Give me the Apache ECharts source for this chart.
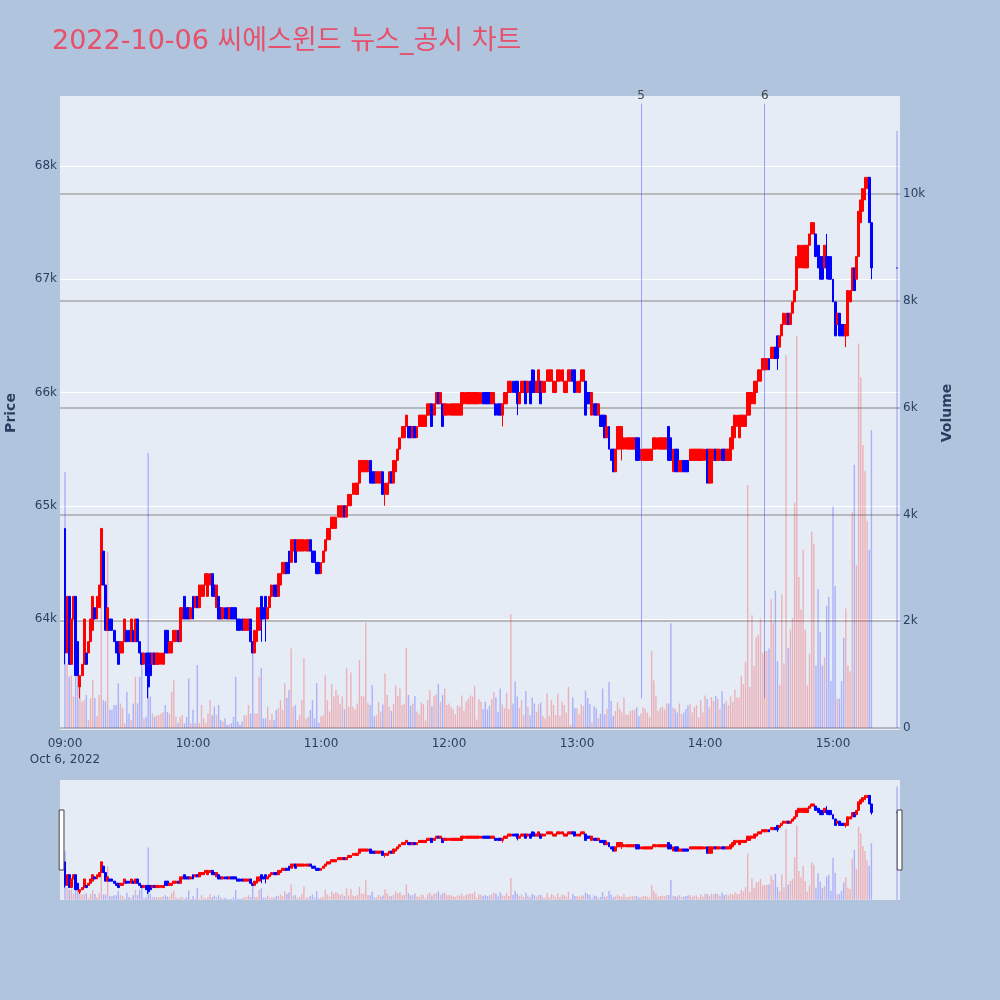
<!DOCTYPE html>
<html>
<head>
<meta charset="utf-8">
<title>씨에스윈드 뉴스_공시 차트</title>
<script src="https://cdn.jsdelivr.net/npm/echarts@6/dist/echarts.min.js"></script>
<style>
html, body { margin: 0; padding: 0; background: #b0c4de; }
#chart { width: 1000px; height: 1000px; }
</style>
</head>
<body>
<div id="chart"></div>
<script>
// one candle per minute starting at 09:00
var startTime = '09:00';
var opens = [
  64800,63700,64200,63600,64000,64200,63800,63400,63500,63600,
  63700,63700,63800,63900,64100,64000,64100,64300,64600,64300,
  63900,64000,64000,63900,63800,63800,63700,63700,63800,63900,
  63900,63800,63900,63800,64000,63800,63700,63600,63700,63700,
  63700,63600,63700,63600,63600,63600,63600,63900,63900,63700,
  63700,63800,63800,63900,63800,64000,64200,64100,64100,64000,
  64200,64100,64200,64100,64200,64200,64300,64200,64300,64400,
  64300,64100,64200,64100,64000,64100,64100,64000,64100,64100,
  64100,64000,64000,64000,63900,63900,63900,64000,63800,63700,
  63800,63900,64200,64100,64200,64000,64100,64200,64300,64300,
  64200,64300,64400,64400,64500,64600,64500,64600,64700,64600,
  64600,64600,64600,64600,64600,64700,64600,64600,64500,64500,
  64400,64500,64600,64700,64700,64800,64800,64800,64900,64900,
  64900,65000,64900,65000,65000,65100,65100,65100,65200,65300,
  65300,65300,65300,65400,65300,65300,65200,65200,65200,65300,
  65100,65100,65200,65300,65200,65300,65400,65500,65600,65600,
  65700,65700,65700,65600,65700,65600,65700,65700,65700,65700,
  65800,65800,65900,65800,65900,66000,65900,65900,65800,65800,
  65800,65800,65800,65800,65800,65800,65800,65900,65900,65900,
  65900,65900,65900,65900,65900,65900,66000,66000,66000,66000,
  65900,65900,65900,65900,65900,65800,65900,65900,66000,66000,
  66100,66100,66100,65900,66000,66000,66100,66000,66100,66200,
  66100,66000,66000,66100,66000,66000,66100,66100,66100,66000,
  66000,66100,66100,66100,66000,66000,66100,66100,66200,66200,
  66000,66000,66100,66100,66100,66000,66000,65800,65900,65900,
  65800,65800,65800,65800,65600,65700,65500,65500,65300,65500,
  65500,65600,65500,65500,65500,65500,65500,65500,65600,65600,
  65400,65400,65400,65400,65400,65400,65500,65500,65500,65500,
  65500,65500,65500,65700,65600,65300,65500,65500,65300,65300,
  65400,65400,65400,65400,65400,65400,65400,65400,65400,65400,
  65400,65500,65200,65200,65400,65500,65400,65400,65500,65500,
  65400,65400,65400,65500,65600,65700,65600,65700,65700,65700,
  65800,65800,65900,65900,66000,66100,66100,66200,66200,66200,
  66300,66300,66300,66400,66500,66400,66500,66600,66600,66700,
  66600,66700,66800,66900,67100,67100,67100,67100,67100,67300,
  67400,67400,67400,67300,67200,67200,67100,67200,67200,67200,
  67000,66800,66600,66700,66600,66600,66500,66500,66800,66900,
  67100,67000,67200,67500,67600,67700,67800,67900,67500
];
var closes = [
  63700,64200,63600,64000,64200,63500,63500,63500,63600,64000,
  63600,63800,64000,64200,64000,64200,64300,64800,64300,63900,
  64100,63900,63900,63800,63700,63600,63800,63800,64000,63800,
  63800,64000,63800,64000,63800,63700,63600,63700,63500,63400,
  63500,63700,63600,63700,63700,63700,63700,63700,63700,63800,
  63800,63900,63900,63800,64100,64100,64000,64000,64000,64100,
  64000,64200,64100,64300,64300,64300,64400,64400,64400,64200,
  64200,64300,64000,64000,64100,64000,64000,64100,64000,64000,
  64000,63900,63900,63900,64000,64000,64000,63800,63700,63900,
  64100,64100,64000,64000,64100,64100,64200,64300,64200,64200,
  64400,64400,64500,64500,64400,64400,64700,64700,64500,64700,
  64700,64700,64700,64700,64700,64600,64500,64500,64400,64400,
  64500,64600,64700,64800,64800,64900,64900,64900,65000,65000,
  65000,64900,65000,65100,65100,65200,65200,65200,65400,65400,
  65400,65400,65400,65200,65200,65200,65300,65300,65300,65100,
  65200,65200,65300,65200,65400,65400,65500,65600,65700,65700,
  65800,65600,65600,65700,65600,65700,65800,65800,65800,65800,
  65900,65900,65700,65900,66000,65900,66000,65700,65900,65900,
  65900,65900,65900,65900,65900,65900,66000,66000,66000,66000,
  66000,66000,66000,66000,66000,66000,65900,65900,65900,65900,
  66000,66000,65800,65800,65800,65900,66000,66000,66100,66100,
  66000,66000,65900,66000,66100,66100,65900,66100,65900,66000,
  66000,66100,66200,65900,66100,66100,66200,66200,66200,66100,
  66100,66200,66200,66200,66100,66100,66200,66200,66100,66000,
  66100,66100,66200,66200,65800,65900,65900,66000,65800,65800,
  65900,65700,65700,65600,65700,65500,65400,65300,65500,65700,
  65700,65700,65600,65600,65600,65600,65600,65600,65400,65400,
  65500,65500,65500,65500,65500,65500,65600,65600,65600,65600,
  65600,65600,65600,65400,65400,65500,65300,65300,65400,65400,
  65300,65300,65300,65500,65500,65500,65500,65500,65500,65500,
  65500,65200,65500,65500,65500,65400,65500,65500,65400,65400,
  65500,65500,65600,65700,65800,65800,65800,65800,65800,65800,
  66000,66000,66000,66100,66100,66200,66200,66300,66300,66300,
  66200,66400,66400,66300,66300,66500,66600,66700,66700,66600,
  66700,66800,66900,67200,67300,67300,67300,67300,67300,67400,
  67500,67500,67200,67100,67000,67000,67300,67100,67000,67000,
  66800,66500,66700,66500,66500,66500,66600,66900,66900,67100,
  66900,67200,67600,67700,67800,67900,67900,67500,67100
];
var lows = [
  63600,63700,63600,63600,64000,63500,63500,63300,63500,63600,
  63600,63700,63800,63900,64000,64000,64100,64300,64300,63900,
  63900,63900,63900,63800,63700,63600,63700,63700,63800,63800,
  63800,63800,63800,63800,63800,63700,63600,63600,63500,63300,
  63500,63600,63600,63600,63600,63600,63600,63700,63700,63700,
  63700,63800,63800,63800,63800,64000,64000,64000,64000,64000,
  64000,64100,64100,64100,64200,64200,64300,64200,64300,64200,
  64200,64100,64000,64000,64000,64000,64000,64000,64000,64000,
  64000,63900,63900,63900,63900,63900,63900,63800,63700,63700,
  63800,63900,63800,64000,63800,64000,64100,64200,64200,64200,
  64200,64300,64400,64400,64400,64400,64500,64600,64500,64600,
  64600,64600,64600,64600,64600,64600,64500,64500,64400,64400,
  64400,64500,64600,64700,64700,64800,64800,64800,64900,64900,
  64900,64900,64900,65000,65000,65100,65100,65100,65200,65300,
  65300,65300,65300,65200,65200,65200,65200,65200,65200,65100,
  65000,65100,65200,65200,65200,65300,65400,65500,65600,65600,
  65700,65600,65600,65600,65600,65600,65700,65700,65700,65700,
  65800,65800,65700,65800,65900,65900,65900,65700,65800,65800,
  65800,65800,65800,65800,65800,65800,65800,65900,65900,65900,
  65900,65900,65900,65900,65900,65900,65900,65900,65900,65900,
  65900,65900,65800,65800,65800,65700,65900,65900,66000,66000,
  66000,66000,65800,65900,66000,66000,65900,66000,65900,66000,
  66000,66000,66000,65900,66000,66000,66100,66100,66100,66000,
  66000,66100,66100,66100,66000,66000,66100,66100,66100,66000,
  66000,66000,66100,66100,65800,65900,65900,65800,65800,65800,
  65800,65700,65700,65600,65600,65500,65400,65300,65300,65500,
  65500,65400,65500,65500,65500,65500,65500,65500,65400,65400,
  65400,65400,65400,65400,65400,65400,65500,65500,65500,65500,
  65500,65500,65500,65400,65400,65300,65300,65300,65300,65300,
  65300,65300,65300,65400,65400,65400,65400,65400,65400,65400,
  65400,65200,65200,65200,65400,65400,65400,65400,65400,65400,
  65400,65400,65400,65500,65600,65700,65600,65700,65700,65700,
  65800,65800,65900,65900,66000,66100,66100,66200,66200,66200,
  66200,66300,66300,66300,66200,66400,66500,66600,66600,66600,
  66600,66700,66800,66900,67100,67100,67100,67100,67100,67300,
  67400,67400,67200,67100,67000,67000,67100,67000,67000,67000,
  66800,66500,66600,66500,66500,66500,66400,66500,66800,66900,
  66900,67000,67200,67500,67600,67700,67800,67500,67000
];
var highs = [
  64800,64200,64200,64000,64200,64200,63800,63500,63600,64000,
  63700,63800,64000,64200,64100,64200,64300,64800,64600,64300,
  64100,64000,64000,63900,63800,63800,63800,63800,64000,63900,
  63900,64000,63900,64000,64000,63800,63700,63700,63700,63700,
  63700,63700,63700,63700,63700,63700,63700,63900,63900,63800,
  63800,63900,63900,63900,64100,64100,64200,64100,64100,64100,
  64200,64200,64200,64300,64300,64300,64400,64400,64400,64400,
  64300,64300,64200,64100,64100,64100,64100,64100,64100,64100,
  64100,64000,64000,64000,64000,64000,64000,64000,63800,63900,
  64100,64100,64200,64100,64200,64100,64200,64300,64300,64300,
  64400,64400,64500,64500,64500,64600,64700,64700,64700,64700,
  64700,64700,64700,64700,64700,64700,64600,64600,64500,64500,
  64500,64600,64700,64800,64800,64900,64900,64900,65000,65000,
  65000,65000,65000,65100,65100,65200,65200,65200,65400,65400,
  65400,65400,65400,65400,65300,65300,65300,65300,65300,65300,
  65200,65200,65300,65300,65400,65400,65500,65600,65700,65700,
  65800,65700,65700,65700,65700,65700,65800,65800,65800,65800,
  65900,65900,65900,65900,66000,66000,66000,65900,65900,65900,
  65900,65900,65900,65900,65900,65900,66000,66000,66000,66000,
  66000,66000,66000,66000,66000,66000,66000,66000,66000,66000,
  66000,66000,65900,65900,65900,65900,66000,66000,66100,66100,
  66100,66100,66100,66000,66100,66100,66100,66100,66100,66200,
  66200,66100,66200,66100,66100,66100,66200,66200,66200,66100,
  66100,66200,66200,66200,66100,66100,66200,66200,66200,66200,
  66100,66100,66200,66200,66100,66000,66000,66000,65900,65900,
  65900,65800,65800,65800,65800,65700,65500,65500,65500,65700,
  65700,65700,65600,65600,65600,65600,65600,65600,65600,65600,
  65500,65500,65500,65500,65500,65500,65600,65600,65600,65600,
  65600,65600,65600,65700,65600,65500,65500,65500,65400,65400,
  65400,65400,65400,65500,65500,65500,65500,65500,65500,65500,
  65500,65500,65500,65500,65500,65500,65500,65500,65500,65500,
  65500,65500,65600,65700,65800,65800,65800,65800,65800,65800,
  66000,66000,66000,66100,66100,66200,66200,66300,66300,66300,
  66300,66400,66400,66400,66500,66500,66600,66700,66700,66700,
  66700,66800,66900,67200,67300,67300,67300,67300,67300,67400,
  67500,67500,67400,67300,67200,67200,67300,67400,67200,67200,
  67000,66800,66700,66700,66600,66600,66600,66900,66900,67100,
  67100,67200,67600,67700,67800,67900,67900,67900,67500
];
var volumes = [
  4790,1210,960,990,590,960,1000,770,490,520,
  620,150,560,900,560,225,620,2700,520,500,
  3300,340,340,430,430,840,460,370,90,680,
  270,150,460,960,460,960,1200,180,210,5150,
  590,270,210,240,240,270,300,430,300,270,
  680,900,210,90,210,240,90,210,930,90,
  340,90,1180,90,430,180,90,270,520,240,
  400,240,430,150,120,180,60,60,90,210,
  960,120,60,120,240,240,430,270,1430,270,
  270,960,1120,180,180,400,150,270,150,340,
  370,520,340,840,560,710,1490,400,430,150,
  240,520,1300,180,210,340,520,180,840,100,
  220,240,990,520,310,820,590,720,620,450,
  590,350,1120,400,1040,400,350,460,1270,600,
  590,1970,470,430,800,220,240,490,310,440,
  1020,620,400,320,450,800,600,740,430,450,
  1500,620,420,460,600,310,260,480,450,140,
  520,710,410,600,630,820,490,620,740,430,
  460,400,340,260,420,400,610,320,490,550,
  610,590,790,160,540,490,350,490,350,420,
  540,670,570,300,740,440,370,660,350,2130,
  460,870,590,370,520,240,690,400,240,570,
  460,300,440,480,220,180,650,220,520,430,
  240,640,230,490,430,290,770,60,570,370,
  370,260,440,410,700,560,450,110,410,370,
  190,270,740,260,360,860,510,230,320,480,
  360,290,570,260,250,320,340,340,390,220,
  270,390,360,290,210,1440,890,610,320,370,
  400,350,460,460,1960,380,350,290,460,260,
  290,350,420,450,290,390,430,200,520,290,
  610,550,390,580,510,600,550,350,690,460,
  510,430,590,490,720,570,570,970,820,1240,
  4550,770,2110,1160,1700,1750,2050,1400,1440,1440,
  1490,2410,1970,2570,1250,810,2500,1210,6980,1500,
  1840,2060,4220,7340,2830,2220,3340,1840,800,1390,
  3680,3450,1170,2600,1800,1170,1320,2290,2460,880,
  4150,2660,550,550,880,1690,2240,1170,1060,4040,
  4930,3050,7200,6570,5300,4810,3880,3340,5580
];
// closing auction print
var auctionTime = '15:30';
var auctionPrice = 67100;
var auctionVolume = 11180;

var newsTimes = ['13:30', '14:28'];
var newsLabels = ['5', '6'];
var timeTicks = ['09:00', '10:00', '11:00', '12:00', '13:00', '14:00', '15:00'];
var priceTicks = [64000, 65000, 66000, 67000, 68000];
var volumeTicks = [0, 2000, 4000, 6000, 8000, 10000];

var UP = '#ff0000', DOWN = '#0000ff';
var UP_VOL = 'rgba(255,0,0,0.25)', DOWN_VOL = 'rgba(0,0,255,0.25)';
var TICK_COLOR = '#2a3f5f';
var FONT = "Verdana, 'DejaVu Sans', 'Noto Sans CJK KR', sans-serif";

function toMin(t) {
  var p = t.split(':');
  return (parseInt(p[0], 10) - 9) * 60 + parseInt(p[1], 10);
}
function minLabel(m) {
  var h = 9 + Math.floor(m / 60), mm = m % 60;
  return (h < 10 ? '0' : '') + h + ':' + (mm < 10 ? '0' : '') + mm;
}

var t0 = toMin(startTime);
var candleData = [];
var volData = [];
for (var i = 0; i < closes.length; i++) {
  var x = t0 + i;
  var up = closes[i] >= opens[i];
  candleData.push([x, opens[i], closes[i], lows[i], highs[i]]);
  volData.push({ value: [x, volumes[i]], itemStyle: { color: up ? UP_VOL : DOWN_VOL } });
}
var ta = toMin(auctionTime);
candleData.push({
  value: [ta, auctionPrice, auctionPrice, auctionPrice, auctionPrice],
  itemStyle: { color: DOWN, color0: DOWN, borderColor: DOWN, borderColor0: DOWN }
});
volData.push({ value: [ta, auctionVolume], itemStyle: { color: DOWN_VOL } });

var newsLines = newsTimes.map(function (t, k) {
  return [{ coord: [toMin(t), 63300], name: newsLabels[k] }, { coord: [toMin(t), 68550] }];
});

var xMin = -2.34, xMax = 391.4;
var pMin = 63020, pMax = 68618;
var vMin = -37, vMax = 11835;

var chart = echarts.init(document.getElementById('chart'));
var option = {
  backgroundColor: '#b0c4de',
  animation: false,
  textStyle: { fontFamily: FONT },
  title: {
    text: '2022-10-06 씨에스윈드 뉴스_공시 차트',
    left: 47,
    top: 23,
    textStyle: { fontSize: 27, fontWeight: 'normal', color: '#e6506a', fontFamily: FONT }
  },
  grid: [
    { left: 60, right: 100, top: 96, height: 634, show: true, backgroundColor: '#e5ecf6', borderWidth: 0, containLabel: false, outerBoundsMode: 'none' },
    { left: 60, right: 100, top: 780, height: 120, show: true, backgroundColor: '#e5ecf6', borderWidth: 0, containLabel: false, outerBoundsMode: 'none' }
  ],
  xAxis: [
    {
      type: 'value', gridIndex: 0, min: xMin, max: xMax,
      axisLine: { show: false }, axisTick: { show: false }, splitLine: { show: false },
      axisLabel: {
        customValues: timeTicks.map(toMin),
        color: TICK_COLOR, fontSize: 12, margin: 6, lineHeight: 16,
        formatter: function (v) {
          return v === 0 ? minLabel(v) + '\nOct 6, 2022' : minLabel(v);
        }
      }
    },
    { type: 'value', gridIndex: 1, min: xMin, max: xMax, show: false, splitLine: { show: false } }
  ],
  yAxis: [
    {
      type: 'value', gridIndex: 0, position: 'left', min: pMin, max: pMax,
      name: 'Price', nameLocation: 'middle', nameGap: 42, nameRotate: 90,
      nameTextStyle: { color: TICK_COLOR, fontSize: 14, fontWeight: 'bold' },
      axisLine: { show: false },
      axisTick: { show: false, customValues: priceTicks },
      axisLabel: {
        customValues: priceTicks, color: TICK_COLOR, fontSize: 12, margin: 3,
        formatter: function (v) { return v / 1000 + 'k'; }
      },
      splitLine: { show: true, lineStyle: { color: '#ffffff', width: 1 } }
    },
    {
      type: 'value', gridIndex: 0, position: 'right', min: vMin, max: vMax,
      name: 'Volume', nameLocation: 'middle', nameGap: 40, nameRotate: 90,
      nameTextStyle: { color: TICK_COLOR, fontSize: 14, fontWeight: 'bold' },
      axisLine: { show: false },
      axisTick: { show: false, customValues: volumeTicks },
      axisLabel: {
        customValues: volumeTicks, color: TICK_COLOR, fontSize: 12, margin: 3,
        formatter: function (v) { return v === 0 ? '0' : v / 1000 + 'k'; }
      },
      splitLine: { show: true, lineStyle: { color: '#a9a9a9', width: 1.5 } }
    },
    { type: 'value', gridIndex: 1, min: pMin, max: pMax, show: false, splitLine: { show: false } },
    { type: 'value', gridIndex: 1, min: vMin, max: vMax, show: false, splitLine: { show: false } }
  ],
  dataZoom: [{
    type: 'slider', xAxisIndex: [0], filterMode: 'none',
    left: 60, right: 100, top: 780, height: 120,
    start: 0, end: 100,
    showDetail: false, showDataShadow: false, brushSelect: false,
    backgroundColor: 'rgba(0,0,0,0)', fillerColor: 'rgba(0,0,0,0)', borderColor: 'rgba(0,0,0,0)',
    dataBackground: { lineStyle: { opacity: 0 }, areaStyle: { opacity: 0 } },
    selectedDataBackground: { lineStyle: { opacity: 0 }, areaStyle: { opacity: 0 } },
    handleIcon: 'path://M0,0H8V100H0Z',
    handleSize: '50%',
    handleStyle: { color: '#ffffff', borderColor: '#444444', borderWidth: 1 },
    moveHandleSize: 0,
    moveHandleStyle: { opacity: 0 }
  }],
  series: [
    {
      name: 'Volume', type: 'bar', xAxisIndex: 0, yAxisIndex: 1,
      barWidth: 1.4, z: 1, data: volData, encode: { x: 0, y: 1 }
    },
    {
      name: 'Price', type: 'candlestick', xAxisIndex: 0, yAxisIndex: 0,
      barWidth: 2.4, z: 3, data: candleData,
      encode: { x: 0, y: [1, 2, 3, 4] },
      itemStyle: { color: UP, color0: DOWN, borderColor: UP, borderColor0: DOWN, borderWidth: 1 },
      markLine: {
        silent: true, symbol: ['none', 'none'], animation: false,
        lineStyle: { color: 'rgba(60,60,255,0.45)', width: 1, type: 'solid' },
        label: { show: true, position: 'end', formatter: '{b}', color: '#444444', fontSize: 12, distance: 2 },
        data: newsLines
      }
    },
    {
      type: 'bar', xAxisIndex: 1, yAxisIndex: 3,
      barWidth: 1.4, z: 1, data: volData, encode: { x: 0, y: 1 }
    },
    {
      type: 'candlestick', xAxisIndex: 1, yAxisIndex: 2,
      barWidth: 2.4, z: 3, data: candleData,
      encode: { x: 0, y: [1, 2, 3, 4] },
      itemStyle: { color: UP, color0: DOWN, borderColor: UP, borderColor0: DOWN, borderWidth: 1 }
    }
  ]
};
chart.setOption(option);
</script>
</body>
</html>
